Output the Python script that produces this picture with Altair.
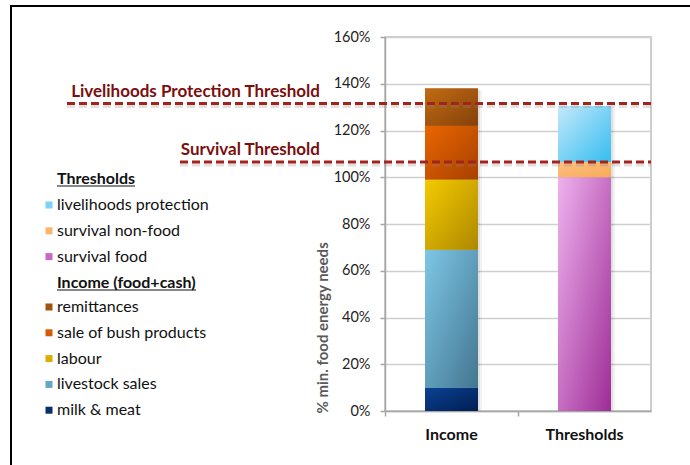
import altair as alt
import pandas as pd

# Bar categories
categories = ["Income", "Thresholds"]

# Income sources, bottom to top of the stack (% of minimum food energy needs)
income_series = ["milk & meat", "livestock sales", "labour", "sale of bush products", "remittances"]
income_values = [10, 59, 30, 23, 16]

# Threshold components, bottom to top of the stack
threshold_series = ["survival food", "survival non-food", "livelihoods protection"]
threshold_values = [100, 6.5, 24]

# Dashed threshold lines
line_labels = ["Livelihoods Protection Threshold", "Survival Threshold"]
line_values = [131.5, 106.5]

# Legend groups, top to bottom
threshold_legend = ["livelihoods protection", "survival non-food", "survival food"]
income_legend = ["remittances", "sale of bush products", "labour", "livestock sales", "milk & meat"]

# Flat colours (legend swatches) and gradient ends (light, dark) for each series
flat_colors = {
    "livelihoods protection": "#7dd3f7",
    "survival non-food": "#fbb46e",
    "survival food": "#c868c4",
    "remittances": "#a4520f",
    "sale of bush products": "#d45a06",
    "labour": "#dcac00",
    "livestock sales": "#64a6c6",
    "milk & meat": "#0a2f6c",
}
gradient_colors = {
    "livelihoods protection": ("#c4e9fa", "#35bdf0"),
    "survival non-food": ("#fdc084", "#f8aa56"),
    "survival food": ("#eeb2ee", "#9e2c96"),
    "remittances": ("#c26c12", "#84400a"),
    "sale of bush products": ("#ea6600", "#a64000"),
    "labour": ("#f4ca00", "#ad8800"),
    "livestock sales": ("#7ec6e6", "#437690"),
    "milk & meat": ("#0b4294", "#001e52"),
}

FONT = "Lato"

rows = []
for i, (s, v) in enumerate(zip(income_series, income_values)):
    rows.append({"cat": categories[0], "series": s, "value": v, "order": i})
for i, (s, v) in enumerate(zip(threshold_series, threshold_values)):
    rows.append({"cat": categories[1], "series": s, "value": v, "order": i})
df = pd.DataFrame(rows)
lines_df = pd.DataFrame({"label": line_labels, "value": line_values})

x_enc = alt.X(
    "cat:N",
    sort=categories,
    scale=alt.Scale(domain=categories, paddingInner=0, paddingOuter=0),
    axis=alt.Axis(
        title=None, labelAngle=0, labelFont=FONT, labelFontSize=16, labelFontWeight="bold",
        labelColor="#111111", labelPadding=10, tickSize=5, tickColor="#a6a6a6",
        domainColor="#a6a6a6", domainWidth=1.5, tickWidth=1.5, bandPosition=0, grid=False,
    ),
)
y_enc = alt.Y(
    "y0:Q",
    scale=alt.Scale(domain=[0, 160], nice=False),
    axis=alt.Axis(
        values=[0, 20, 40, 60, 80, 100, 120, 140, 160],
        labelExpr="datum.value + '%'",
        labelFont=FONT, labelFontSize=14.5, labelColor="#222222", labelPadding=10,
        tickSize=5, tickColor="#a6a6a6", tickWidth=1.5, domainColor="#a6a6a6", domainWidth=1.5,
        gridColor="#cfcfcf", gridWidth=1.5,
        title="% min. food energy needs", titleFont=FONT, titleFontSize=15,
        titleFontWeight="bold", titleColor="#595959", titleAngle=270,
        titleX=-63, titleY=376, titleAlign="left", titleBaseline="middle",
    ),
)

base = alt.Chart(df).transform_stack(
    stack="value", groupby=["cat"], as_=["y0", "y1"], sort=[alt.SortField("order")]
)

BAR_W = 53

# Soft shadow to the right of each stacked bar
totals = base.transform_aggregate(top="max(y1)", groupby=["cat"])
shadow1 = totals.mark_bar(size=BAR_W, color="#000000", opacity=0.07, xOffset=2, yOffset=1).encode(
    x=x_enc, y=alt.Y("top:Q", scale=alt.Scale(domain=[0, 160], nice=False)), y2=alt.datum(0)
)
shadow2 = totals.mark_bar(size=BAR_W, color="#000000", opacity=0.05, xOffset=4, yOffset=2).encode(
    x=x_enc, y=alt.Y("top:Q", scale=alt.Scale(domain=[0, 160], nice=False)), y2=alt.datum(0)
)

legend_common = dict(
    orient="none", title=None, symbolType="square", symbolSize=49, symbolStrokeWidth=0,
    labelFont=FONT, labelFontSize=16, labelColor="#111111", labelOffset=0, rowPadding=9.8,
    legendX=-344,
)

thr_flat = base.transform_filter(alt.datum.cat == "Thresholds").mark_bar(size=BAR_W).encode(
    x=x_enc, y=y_enc, y2="y1:Q",
    color=alt.Color(
        "series:N",
        scale=alt.Scale(domain=threshold_legend, range=[flat_colors[s] for s in threshold_legend]),
        legend=alt.Legend(legendY=160, **legend_common),
    ),
)
inc_flat = base.transform_filter(alt.datum.cat == "Income").mark_bar(size=BAR_W).encode(
    x=x_enc, y=y_enc, y2="y1:Q",
    color=alt.Color(
        "series:N",
        scale=alt.Scale(domain=income_legend, range=[flat_colors[s] for s in income_legend]),
        legend=alt.Legend(legendY=262, **legend_common),
    ),
)

# Gradient fill drawn over each segment
grad_layers = []
for s in income_series + threshold_series:
    light, dark = gradient_colors[s]
    grad = alt.Gradient(
        gradient="linear",
        stops=[alt.GradientStop(color=light, offset=0), alt.GradientStop(color=dark, offset=1)],
        x1=0, y1=0, x2=1, y2=1,
    )
    grad_layers.append(
        base.transform_filter(alt.datum.series == s).mark_bar(size=BAR_W, fill=grad).encode(
            x=x_enc, y=y_enc, y2="y1:Q"
        )
    )

# Dashed threshold lines with a faint shadow and their labels
line_base = alt.Chart(lines_df)
y_line = alt.Y("value:Q", scale=alt.Scale(domain=[0, 160], nice=False))
line_layers = []
for label, x_start in zip(line_labels, [-318, -205]):
    sel = line_base.transform_filter(alt.datum.label == label)
    line_layers.append(
        sel.mark_rule(color="#888888", opacity=0.25, strokeWidth=3, strokeDash=[8, 4], yOffset=3).encode(
            y=y_line, x=alt.value(x_start), x2=alt.value(266)
        )
    )
    line_layers.append(
        sel.mark_rule(color="#a3231d", strokeWidth=3, strokeDash=[8, 4]).encode(
            y=y_line, x=alt.value(x_start), x2=alt.value(266)
        )
    )
line_text = line_base.mark_text(
    align="right", baseline="alphabetic", dy=-7, font=FONT, fontSize=17, fontWeight="bold", color="#7b0e0e"
).encode(y=y_line, x=alt.value(-65), text="label:N")

# Legend group headings with underlines
head_df = pd.DataFrame({"h": ["Thresholds", "Income (food+cash)"]})
heads = []
for h, yy, w in zip(["Thresholds", "Income (food+cash)"], [141, 245], [78, 139]):
    hb = alt.Chart(head_df).transform_filter(alt.datum.h == h)
    heads.append(
        hb.mark_text(align="left", baseline="alphabetic", font=FONT, fontSize=16, fontWeight="bold", color="#111111")
        .encode(x=alt.value(-328), y=alt.value(yy + 6), text="h:N")
    )
    heads.append(
        hb.mark_rule(color="#111111", strokeWidth=1).encode(
            x=alt.value(-328), x2=alt.value(-328 + w), y=alt.value(yy + 8)
        )
    )

# Outer frame (left and top edges)
frame_df = pd.DataFrame({"k": [0]})
frame_left = alt.Chart(frame_df).mark_rule(color="#000000", strokeWidth=2).encode(
    x=alt.value(-374), y=alt.value(-31), y2=alt.value(440)
)
frame_top = alt.Chart(frame_df).mark_rule(color="#000000", strokeWidth=2).encode(
    x=alt.value(-375), x2=alt.value(320), y=alt.value(-31)
)

chart = alt.layer(
    shadow1, shadow2, thr_flat, inc_flat, *grad_layers, *line_layers, line_text, *heads, frame_left, frame_top
).resolve_scale(color="independent").properties(
    width=266,
    height=374,
    padding={"left": 385, "top": 37, "right": 39, "bottom": 54},
    autosize=alt.AutoSizeParams(type="none"),
    background="white",
).configure_view(stroke="#bdbdbd", strokeWidth=1.5)

chart.save("out.html", embed_options={"renderer": "svg", "actions": False})
